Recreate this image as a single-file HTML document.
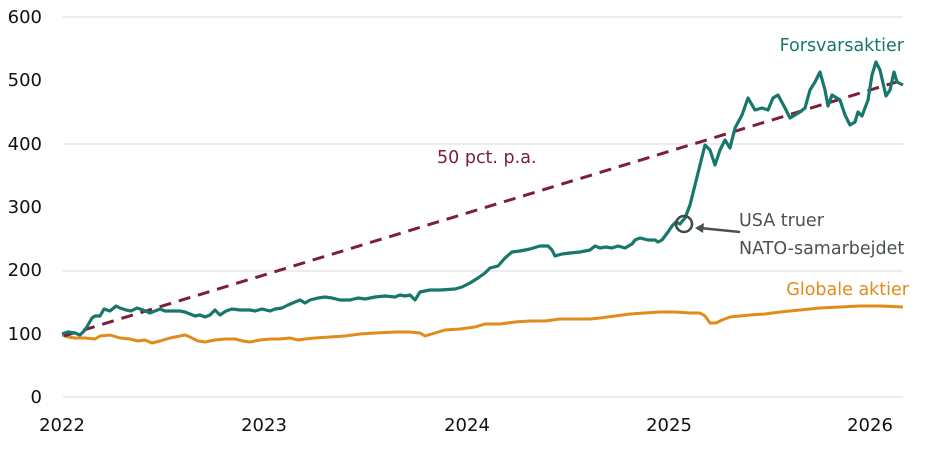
<!DOCTYPE html>
<html><head><style>body{margin:0;background:#fff}svg{display:block;font-family:"DejaVu Sans","Liberation Sans",sans-serif}</style></head><body>
<svg width="928" height="452" viewBox="0 0 928 452">
<g stroke="#d8d8d8" stroke-width="1">
<line x1="63" y1="17" x2="903" y2="17"/><line x1="63" y1="144" x2="903" y2="144"/><line x1="63" y1="271" x2="903" y2="271"/><line x1="63" y1="397" x2="903" y2="397"/>
</g>
<g font-size="18" fill="#111" text-anchor="end">
<text x="42" y="23">600</text><text x="42" y="86">500</text><text x="42" y="150">400</text><text x="42" y="213">300</text><text x="42" y="276">200</text><text x="42" y="340">100</text><text x="42" y="403">0</text>
</g>
<g font-size="18" fill="#111" text-anchor="middle">
<text x="62" y="431">2022</text><text x="264" y="431">2023</text><text x="467" y="431">2024</text><text x="669" y="431">2025</text><text x="870" y="431">2026</text>
</g>
<polyline fill="none" stroke="#e38a1c" stroke-width="3" stroke-linejoin="round" points="62,335 68,337 75,338 85,338 95,339 100,336 110,335 120,338 130,339 138,341 145,340 152,343 160,341 170,338 180,336 185,335 190,337 198,341 205,342 215,340 225,339 235,339 243,341 250,342 260,340 270,339 280,339 290,338 298,340 305,339 315,338 330,337 345,336 360,334 375,333 395,332 410,332 420,333 425,336 435,333 445,330 460,329 475,327 485,324 500,324 515,322 530,321 545,321 560,319 575,319 590,319 600,318 615,316 630,314 645,313 660,312 675,312 690,313 700,313 705,316 710,323 716,323 722,320 730,317 740,316 750,315 765,314 780,312 800,310 820,308 840,307 860,306 880,306 903,307"/>
<line x1="64" y1="336" x2="903" y2="80" stroke="#7c2038" stroke-width="3" stroke-dasharray="12,8"/>
<polyline fill="none" stroke="#17776a" stroke-width="3.2" stroke-linejoin="round" points="62,334 68,332 75,333 80,335 85,330 92,318 95,316 100,316 104,309 110,311 116,306 120,308 126,310 131,311 137,308 143,310 150,313 155,311 160,309 165,311 172,311 180,311 185,312 190,314 195,316 200,315 205,317 210,315 215,310 220,315 226,311 232,309 240,310 250,310 255,311 262,309 270,311 275,309 282,308 288,305 295,302 300,300 305,303 310,300 318,298 325,297 332,298 340,300 350,300 358,298 365,299 375,297 385,296 395,297 400,295 405,296 410,295 415,300 420,292 430,290 440,290 455,289 462,287 470,283 478,278 485,273 490,268 498,266 505,258 512,252 520,251 530,249 540,246 548,246 552,250 555,256 562,254 570,253 580,252 590,250 595,246 600,248 606,247 612,248 618,246 625,248 632,244 635,240 640,238 648,240 655,240 658,242 662,240 668,232 672,226 676,222 680,224 685,218 690,205 695,185 700,165 705,145 710,150 715,165 720,150 725,140 730,148 735,128 742,115 748,98 755,110 762,108 768,110 773,98 778,95 785,108 790,118 795,115 800,112 805,108 810,90 815,82 820,72 825,90 828,106 832,95 840,100 845,115 850,125 855,122 858,112 862,116 868,100 872,75 876,62 880,70 886,96 890,90 894,72 897,82 903,85"/>
<circle cx="684" cy="224" r="8" fill="none" stroke="#3f4a48" stroke-width="2.5"/>
<line x1="740" y1="232" x2="700" y2="228" stroke="#4a5250" stroke-width="2.5"/>
<polygon points="695,228 704,223 703,233" fill="#4a5250"/>
<text x="437" y="163" font-size="17.5" fill="#7c2038">50 pct. p.a.</text>
<text x="904" y="51" font-size="17.5" fill="#17776a" text-anchor="end">Forsvarsaktier</text>
<text x="909" y="295" font-size="17.5" fill="#e38a1c" text-anchor="end">Globale aktier</text>
<text x="739" y="226" font-size="17.5" fill="#4a5250">USA truer</text>
<text x="739" y="254" font-size="17.5" fill="#4a5250">NATO-samarbejdet</text>
</svg>
</body></html>
